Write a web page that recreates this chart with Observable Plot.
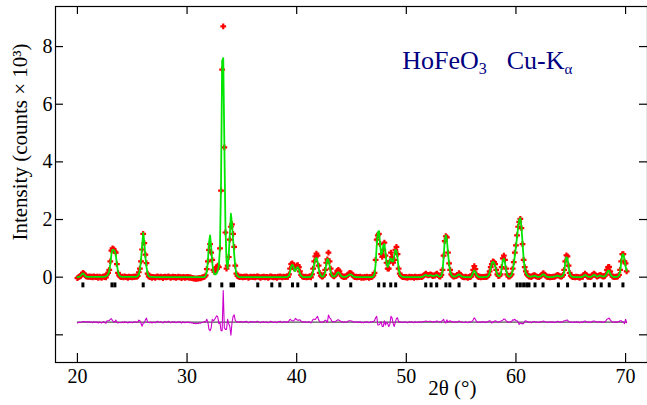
<!DOCTYPE html>
<html><head><meta charset="utf-8">
<script src="https://cdn.jsdelivr.net/npm/d3@7"></script>
<script src="https://cdn.jsdelivr.net/npm/@observablehq/plot@0.6"></script>
<style>html,body{margin:0;padding:0;background:#fff} svg{display:block}</style>
</head><body><div id="chart"></div>
<script>
// 2θ sampling of the scan
const twoThetaStart = 20.0;
const twoThetaStep = 0.1;
// Observed intensity (counts × 10^3), one row per degree 20..69, then 70.0, 70.1
const observed = [
 -0.03,0.0,0.02,0.04,0.1,0.15,0.12,0.06,0.03,0.02,
 0.01,0.03,0.0,0.02,-0.01,0.03,0.01,0.0,0.02,-0.02,
 0.02,0.0,-0.02,0.01,0.03,0.0,-0.01,0.1,0.15,0.25,
 0.55,0.92,1.0,0.97,0.9,0.85,0.45,0.15,0.06,0.02,
 0.0,0.02,-0.01,0.03,0.0,0.01,-0.02,0.02,0.0,0.01,
 -0.01,0.02,0.0,0.03,0.01,0.04,0.17,0.3,0.55,0.96,
 1.5,1.18,0.78,0.49,0.12,0.03,0.0,0.02,-0.02,0.01,
 0.0,-0.02,0.01,0.03,0.0,-0.01,0.02,0.0,-0.03,0.01,
 0.02,-0.01,0.0,0.03,0.01,-0.02,0.0,0.02,-0.01,0.01,
 -0.02,0.0,0.02,-0.01,0.01,-0.03,0.0,0.01,-0.02,0.0,
 -0.01,0.01,-0.02,0.0,-0.03,-0.02,-0.05,-0.04,-0.06,-0.04,
 -0.05,-0.03,-0.04,-0.02,-0.01,0.0,0.02,0.06,0.28,0.55,
 0.95,1.15,0.85,0.6,0.25,0.18,0.25,0.35,0.4,0.35,
 1.0,3.0,7.2,8.7,4.5,1.55,0.3,0.4,0.7,1.3,
 1.75,1.83,1.5,1.05,0.4,0.12,0.04,0.02,0.0,0.02,
 0.01,-0.01,0.02,0.0,0.03,0.01,-0.02,0.0,0.02,0.01,
 0.0,0.02,-0.01,0.01,0.03,0.02,0.0,-0.02,0.01,0.0,
 0.02,-0.01,0.0,0.01,-0.02,0.0,0.03,0.02,0.0,-0.01,
 0.01,0.0,-0.02,0.02,0.01,0.03,0.0,-0.01,0.02,0.01,
 0.0,0.02,0.01,0.1,0.3,0.45,0.48,0.42,0.3,0.35,
 0.4,0.42,0.35,0.2,0.08,0.03,0.01,0.0,0.02,-0.01,
 0.0,0.02,0.01,-0.01,0.1,0.3,0.55,0.72,0.82,0.75,
 0.4,0.15,0.05,0.02,0.03,0.08,0.25,0.5,0.62,0.85,
 0.55,0.3,0.1,0.05,0.03,0.06,0.12,0.22,0.25,0.2,
 0.1,0.04,0.02,0.0,0.03,0.01,0.05,0.1,0.14,0.15,
 0.12,0.07,0.03,0.0,0.02,-0.01,0.01,0.0,0.02,-0.02,
 0.0,-0.02,0.01,-0.01,0.02,0.0,-0.02,0.01,0.0,0.02,
 0.06,0.15,0.6,1.3,1.45,1.5,1.15,0.8,0.7,0.95,
 1.2,0.75,0.5,0.3,0.3,0.55,0.85,0.7,0.5,0.6,
 0.95,1.05,0.8,0.3,0.12,0.05,0.02,0.0,0.01,-0.01,
 0.01,-0.02,0.0,0.02,-0.01,0.01,0.0,-0.02,0.02,0.0,
 -0.01,0.01,0.0,0.02,0.0,0.03,0.06,0.1,0.12,0.08,
 0.06,0.08,0.1,0.08,0.04,0.06,0.05,0.1,0.12,0.07,
 0.03,0.02,0.08,0.25,0.75,1.25,1.42,1.38,0.85,0.48,
 0.25,0.1,0.05,0.02,0.03,0.04,0.05,0.08,0.14,0.1,
 0.05,0.02,0.0,-0.01,0.02,0.0,-0.02,0.01,0.0,0.02,
 0.1,0.25,0.38,0.28,0.1,0.03,0.0,0.02,-0.01,0.01,
 0.01,0.0,0.02,0.0,0.03,0.08,0.2,0.35,0.45,0.55,
 0.52,0.45,0.25,0.1,0.04,0.05,0.1,0.35,0.65,0.75,
 0.6,0.3,0.1,0.03,0.02,0.05,0.1,0.3,0.52,0.85,
 1.1,1.45,1.75,1.92,2.02,1.7,1.15,0.6,0.35,0.2,
 0.1,0.05,0.02,0.03,0.0,0.04,0.06,0.07,0.04,0.02,
 0.01,0.0,0.03,0.05,0.1,0.14,0.1,0.05,0.02,0.0,
 0.02,-0.01,0.01,0.0,0.02,0.01,0.03,0.05,0.08,0.05,
 0.03,0.02,0.03,0.08,0.25,0.55,0.76,0.72,0.4,0.15,
 0.05,0.02,0.0,0.01,-0.01,0.02,0.0,0.01,-0.02,0.0,
 0.02,0.01,0.08,0.12,0.08,0.03,0.01,0.02,0.0,0.03,
 0.08,0.12,0.1,0.05,0.02,0.04,0.06,0.08,0.05,0.03,
 0.02,0.04,0.1,0.25,0.35,0.36,0.2,0.08,0.03,0.01,
 0.0,0.02,0.01,0.03,0.08,0.25,0.55,0.8,0.8,0.55,
 0.48,0.2
];
// Calculated profile (counts × 10^3), same sampling
const calculated = [
 0.0,0.01,0.02,0.05,0.1,0.13,0.1,0.05,0.02,0.01,
 0.01,0.01,0.01,0.01,0.01,0.01,0.01,0.01,0.01,0.01,
 0.01,0.01,0.01,0.01,0.01,0.02,0.03,0.05,0.1,0.2,
 0.45,0.8,0.95,0.95,0.9,0.78,0.45,0.18,0.07,0.03,
 0.02,0.01,0.01,0.01,0.01,0.01,0.01,0.01,0.01,0.01,
 0.01,0.01,0.01,0.01,0.02,0.04,0.1,0.25,0.6,1.1,
 1.54,1.2,0.7,0.35,0.12,0.04,0.02,0.01,0.01,0.01,
 0.0,0.0,0.0,0.0,0.0,0.0,0.0,0.0,0.0,0.0,
 0.0,0.0,0.0,0.0,0.0,0.0,0.0,0.0,0.0,0.0,
 0.0,0.0,0.0,0.0,0.0,0.0,0.0,0.0,0.0,0.0,
 0.0,0.0,0.0,0.0,0.0,0.0,0.0,0.0,0.0,0.0,
 0.0,0.0,0.0,0.0,0.0,0.0,0.0,0.05,0.18,0.55,
 1.2,1.45,1.05,0.5,0.2,0.1,0.1,0.13,0.22,0.4,
 1.0,3.3,7.5,7.6,4.7,1.8,0.55,0.3,0.75,1.45,
 2.2,1.85,1.3,0.8,0.35,0.1,0.04,0.01,0.0,0.0,
 0.0,0.0,0.0,0.0,0.0,0.0,0.0,0.0,0.0,0.0,
 0.0,0.0,0.0,0.0,0.0,0.0,0.0,0.0,0.0,0.0,
 0.0,0.0,0.0,0.0,0.0,0.0,0.0,0.0,0.0,0.0,
 0.0,0.0,0.0,0.0,0.0,0.0,0.0,0.0,0.0,0.0,
 0.0,0.01,0.02,0.05,0.2,0.38,0.43,0.38,0.22,0.22,
 0.32,0.35,0.28,0.12,0.05,0.02,0.0,0.0,0.0,0.0,
 0.0,0.0,0.01,0.02,0.07,0.2,0.45,0.63,0.67,0.55,
 0.32,0.13,0.05,0.02,0.02,0.06,0.18,0.45,0.63,0.6,
 0.4,0.18,0.07,0.03,0.02,0.04,0.08,0.15,0.17,0.14,
 0.07,0.03,0.01,0.01,0.01,0.02,0.04,0.06,0.09,0.1,
 0.08,0.05,0.02,0.01,0.0,0.0,0.0,0.0,0.0,0.0,
 0.0,0.0,0.0,0.0,0.0,0.0,0.0,0.0,0.0,0.0,
 0.04,0.1,0.45,1.1,1.55,1.6,1.2,0.78,0.85,1.1,
 1.15,0.85,0.5,0.35,0.45,0.62,0.65,0.55,0.55,0.75,
 0.95,0.92,0.65,0.3,0.1,0.05,0.02,0.01,0.0,0.0,
 0.0,0.0,0.0,0.0,0.0,0.0,0.0,0.0,0.0,0.0,
 0.0,0.0,0.0,0.0,0.01,0.02,0.04,0.07,0.08,0.06,
 0.04,0.05,0.07,0.06,0.04,0.04,0.05,0.07,0.08,0.05,
 0.02,0.02,0.05,0.2,0.65,1.25,1.45,1.3,0.85,0.45,
 0.2,0.08,0.04,0.02,0.02,0.03,0.05,0.07,0.1,0.08,
 0.04,0.02,0.01,0.0,0.0,0.0,0.0,0.0,0.0,0.0,
 0.07,0.17,0.23,0.18,0.08,0.03,0.01,0.0,0.0,0.0,
 0.0,0.0,0.01,0.01,0.02,0.05,0.15,0.32,0.48,0.54,
 0.5,0.4,0.22,0.09,0.04,0.04,0.07,0.3,0.58,0.64,
 0.5,0.25,0.08,0.03,0.02,0.04,0.08,0.22,0.45,0.75,
 1.05,1.4,1.75,2.0,2.05,1.75,1.2,0.65,0.32,0.15,
 0.08,0.04,0.03,0.02,0.02,0.03,0.04,0.05,0.04,0.02,
 0.01,0.01,0.02,0.04,0.08,0.1,0.08,0.04,0.02,0.01,
 0.0,0.0,0.0,0.0,0.01,0.02,0.03,0.04,0.05,0.04,
 0.02,0.02,0.03,0.06,0.2,0.5,0.69,0.65,0.38,0.14,
 0.05,0.02,0.01,0.0,0.0,0.0,0.0,0.0,0.0,0.0,
 0.01,0.02,0.05,0.08,0.06,0.03,0.01,0.01,0.01,0.02,
 0.05,0.08,0.07,0.04,0.02,0.03,0.05,0.06,0.04,0.03,
 0.02,0.03,0.06,0.15,0.23,0.22,0.12,0.05,0.02,0.01,
 0.0,0.01,0.01,0.02,0.06,0.2,0.5,0.78,0.8,0.6,
 0.38,0.22
];
// Bragg reflection positions (2θ)
const braggPositions = [20.5,23.15,23.42,26.0,32.08,33.17,34.01,34.24,36.45,37.73,38.46,39.62,40.1,
 41.74,42.84,43.78,44.93,47.48,47.98,48.58,49.03,51.77,52.26,52.77,53.61,53.97,54.81,56.27,57.97,
 58.88,60.1,60.4,60.7,60.98,61.19,61.74,62.47,63.87,64.71,66.3,67.15,67.78,68.51,69.76];
const xTicks = [20,30,40,50,60,70];
const yTicks = [-2,0,2,4,6,8];
const yTickLabels = [0,2,4,6,8];
const diffOffset = -1.56;
const yLabel = "Intensity (counts × 10³)";
const xLabel = "2θ (°)";
const annotation = "HoFeO3   Cu-Kα";

const serif = "'Liberation Serif', 'Times New Roman', serif";
const W = 647, H = 405, mT = 6, mB = 43, mL = 55, mR = 0;
const innerW = W - mL - mR, innerH = H - mT - mB;
const rows = observed.map((o, i) => ({
  x: +(twoThetaStart + i * twoThetaStep).toFixed(2),
  obs: o,
  calc: calculated[i],
  diff: o - calculated[i] + diffOffset
}));
const xFirst = rows[0].x, xLast = rows[rows.length - 1].x;

const chart = Plot.plot({
  width: W, height: H,
  marginTop: mT, marginBottom: mB, marginLeft: mL, marginRight: mR,
  x: {domain: [18, 72]},
  y: {domain: [-2.96, 9.39]},
  style: {fontFamily: serif, fontSize: "20px", color: "black", background: "white"},
  marks: [
    Plot.ruleX(xTicks, {insetTop: innerH - 9, stroke: "black", strokeWidth: 1.2}),
    Plot.ruleX(xTicks, {insetBottom: innerH - 8, stroke: "black", strokeWidth: 1.2}),
    Plot.ruleY(yTicks, {insetRight: innerW - 8, stroke: "black", strokeWidth: 1.2}),
    Plot.ruleY(yTicks, {insetLeft: innerW - 8, stroke: "black", strokeWidth: 1.2}),
    Plot.axisX(xTicks, {tickSize: 0, tickPadding: 6, label: null, fontSize: 20, fontFamily: serif, fontVariant: "normal"}),
    Plot.axisY(yTickLabels, {tickSize: 0, tickPadding: 3, label: null, fontSize: 20, fontFamily: serif, fontVariant: "normal"}),
    Plot.ruleX(braggPositions, {y1: -0.2, y2: -0.37, stroke: "black", strokeWidth: 3}),
    Plot.ruleY([diffOffset], {x1: xFirst, x2: xLast, stroke: "#555", strokeWidth: 1.4}),
    Plot.line(rows, {x: "x", y: "diff", stroke: "#cc00cc", strokeWidth: 1.1}),
    Plot.dot(rows, {x: "x", y: "obs", symbol: "plus", r: 2, stroke: "#ff0000", strokeWidth: 2.2}),
    Plot.line(rows, {x: "x", y: "calc", stroke: "#00e600", strokeWidth: 1.8}),
    Plot.frame({stroke: "black", strokeWidth: 1.2}),
    Plot.text([yLabel], {frameAnchor: "left", y: 4.69, dx: -35, rotate: -90, textAnchor: "middle", fontSize: 21, fontFamily: serif, fill: "black"}),
    Plot.text([xLabel], {x: 54.2, frameAnchor: "bottom", dy: 32, textAnchor: "middle", fontSize: 21, fontFamily: serif, fill: "black"}),
    Plot.text([annotation], {x: 49.62, y: 7.52, textAnchor: "start", fill: "#000080", fontSize: 26, fontFamily: serif})
  ]
});
document.getElementById("chart").appendChild(chart);

// subscripts in the annotation
d3.select(chart).selectAll("text").filter(function() { return this.textContent === annotation; })
  .each(function() {
    const t = d3.select(this);
    t.text(null);
    t.append("tspan").text("HoFeO");
    t.append("tspan").attr("dy", 5).attr("font-size", 16).text("3");
    t.append("tspan").attr("dy", -5).attr("dx", 20).text("Cu-K");
    t.append("tspan").attr("dy", 5).attr("font-size", 15).text("α");
  });
</script>
</body></html>
